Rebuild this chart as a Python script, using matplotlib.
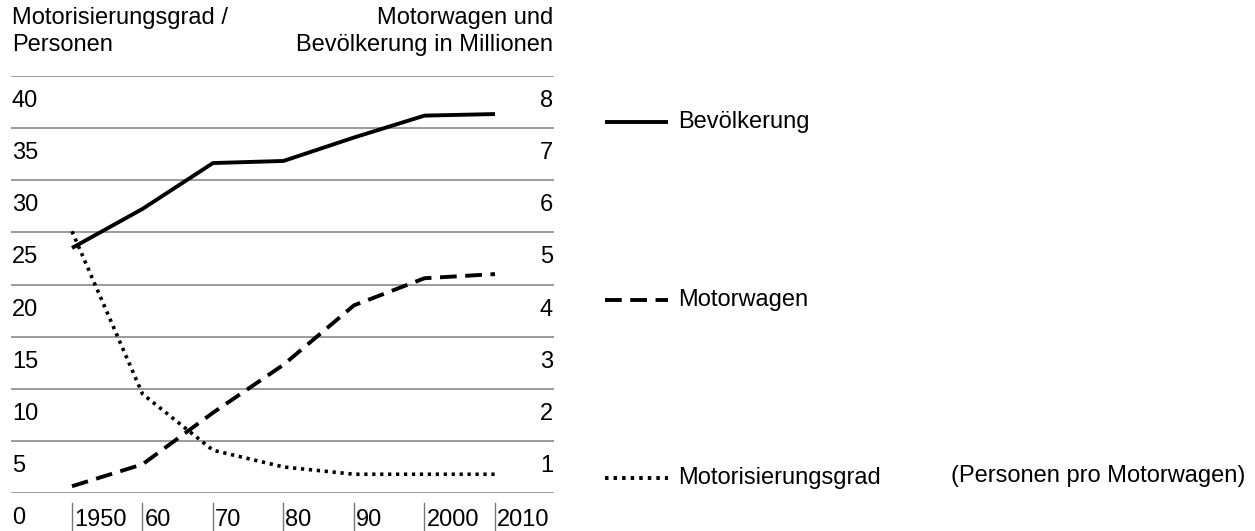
import matplotlib.pyplot as plt
from matplotlib.lines import Line2D

plt.rcParams['font.family'] = ['Liberation Sans', 'DejaVu Sans']
fs = 17

years = [1950, 1960, 1970, 1980, 1990, 2000, 2010]
bevoelkerung = [4.70, 5.45, 6.33, 6.37, 6.82, 7.24, 7.27]
motorwagen = [0.13, 0.55, 1.54, 2.46, 3.60, 4.12, 4.20]
motorisierungsgrad = [25.1, 9.5, 4.1, 2.5, 1.8, 1.8, 1.8]

left_ticks = [0, 5, 10, 15, 20, 25, 30, 35, 40]
right_ticks = [1, 2, 3, 4, 5, 6, 7, 8]
x_ticks = [1950, 1960, 1970, 1980, 1990, 2000, 2010]
x_labels = ['1950', '60', '70', '80', '90', '2000', '2010']

W, H = 1255, 531
fig = plt.figure(figsize=(W / 100, H / 100), dpi=100)

ax = fig.add_axes([11 / W, 1 - 493 / H, 543 / W, 417 / H])
ax.set_xlim(1941.35, 2018.37)
ax.set_ylim(0, 40)
ax.axis('off')
ax2 = ax.twinx()
ax2.set_ylim(0, 8)
ax2.axis('off')

dash = (4.3, 2.2)
dot = (0.9, 1.3)

# grid
for v in left_ticks:
    ax.axhline(v, color='#8a8a8a', lw=1.2, zorder=1)

# axis labels sit below their gridline
for v in left_ticks:
    ax.annotate(str(v), xy=(0, v), xycoords=('axes fraction', 'data'),
                xytext=(1, -25), textcoords='offset pixels',
                ha='left', va='center', fontsize=fs)
for v in right_ticks:
    ax2.annotate(str(v), xy=(1, v), xycoords=('axes fraction', 'data'),
                 xytext=(-1, -25), textcoords='offset pixels',
                 ha='right', va='center', fontsize=fs)

for yr, lab in zip(x_ticks, x_labels):
    ax.plot([yr, yr], [-0.96, -3.7], color='#777777', lw=1.0, clip_on=False)
    ax.annotate(lab, xy=(yr, 0), xycoords='data',
                xytext=(2, -27), textcoords='offset pixels',
                ha='left', va='center', fontsize=fs)

# series
ax2.plot(years, bevoelkerung, color='black', lw=2.8, solid_capstyle='butt', zorder=3)
ax2.plot(years, motorwagen, color='black', lw=2.8, dashes=dash,
         dash_capstyle='butt', zorder=3)
ax.plot(years, motorisierungsgrad, color='black', lw=2.6, dashes=dot,
        dash_capstyle='butt', zorder=3)

# headers
fig.text(12 / W, 1 - 18 / H, 'Motorisierungsgrad /', ha='left', va='center', fontsize=fs)
fig.text(12 / W, 1 - 45 / H, 'Personen', ha='left', va='center', fontsize=fs)
fig.text(553 / W, 1 - 18 / H, 'Motorwagen und', ha='right', va='center', fontsize=fs)
fig.text(553 / W, 1 - 45 / H, 'Bevölkerung in Millionen', ha='right', va='center', fontsize=fs)

# legend
leg = [('Bevölkerung', 122, {}),
       ('Motorwagen', 300, {'dashes': dash}),
       ('Motorisierungsgrad', 478, {'dashes': dot})]
for name, py, style in leg:
    fig.add_artist(Line2D([605 / W, 668 / W], [1 - py / H, 1 - py / H],
                          transform=fig.transFigure, color='black', lw=2.8,
                          dash_capstyle='butt', solid_capstyle='butt', **style))
    fig.text(678 / W, 1 - py / H, name, ha='left', va='center', fontsize=fs)
fig.text(1245 / W, 1 - 476 / H, '(Personen pro Motorwagen)', ha='right', va='center', fontsize=fs)

fig.savefig('out.png', dpi=100)
